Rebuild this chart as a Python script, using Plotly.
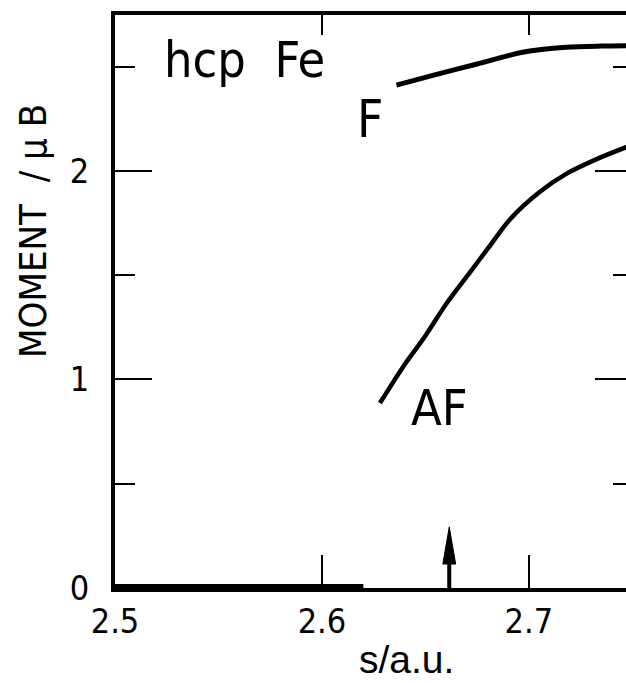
import plotly.graph_objects as go

# ---- data ----
f_s = [2.636, 2.654, 2.675, 2.697, 2.718, 2.735, 2.750]
f_m = [2.412, 2.460, 2.513, 2.569, 2.593, 2.599, 2.601]

af_s = [2.628, 2.639, 2.650, 2.660, 2.6715, 2.680, 2.691, 2.705, 2.718, 2.733, 2.747, 2.750]
af_m = [0.887, 1.058, 1.210, 1.362, 1.514, 1.626, 1.770, 1.898, 1.986, 2.058, 2.114, 2.125]

zero_s = [2.500, 2.620]
zero_m = [0.0, 0.0]

arrow_s = 2.6615
arrow_tip = 0.293

x_range = [2.5, 2.7469]
y_range = [0.0, 2.748]
x_ticks = [2.5, 2.6, 2.7]
x_ticklabels = ["2.5", "2.6", "2.7"]
y_ticks = [0, 1, 2]
y_ticklabels = ["0", "1", "2"]

FONT = "DejaVu Sans Condensed, Liberation Sans Narrow, DejaVu Sans, Arial"
BLACK = "black"

# arrow head geometry (style): head length in data-y, half width in data-x
head_len = 0.178
head_half = 0.0031

fig = go.Figure()

fig.add_trace(go.Scatter(x=zero_s, y=zero_m, mode="lines",
                         line=dict(color=BLACK, width=8), hoverinfo="skip"))
fig.add_trace(go.Scatter(x=f_s, y=f_m, mode="lines",
                         line=dict(color=BLACK, width=5, shape="spline", smoothing=0.8),
                         hoverinfo="skip"))
fig.add_trace(go.Scatter(x=af_s, y=af_m, mode="lines",
                         line=dict(color=BLACK, width=4.5, shape="spline", smoothing=0.8),
                         hoverinfo="skip"))
# arrow shaft
fig.add_trace(go.Scatter(x=[arrow_s, arrow_s], y=[0, arrow_tip - head_len], mode="lines",
                         line=dict(color=BLACK, width=4), hoverinfo="skip"))
# arrow head (filled triangle)
fig.add_trace(go.Scatter(x=[arrow_s - head_half, arrow_s, arrow_s + head_half, arrow_s - head_half],
                         y=[arrow_tip - head_len, arrow_tip, arrow_tip - head_len, arrow_tip - head_len],
                         mode="lines", fill="toself", fillcolor=BLACK,
                         line=dict(color=BLACK, width=1), hoverinfo="skip"))
# carrier for top / right axes
fig.add_trace(go.Scatter(x=[], y=[], xaxis="x2", yaxis="y2", hoverinfo="skip"))

tickfont = dict(family=FONT, size=34, color=BLACK)

fig.update_layout(
    width=626, height=683,
    margin=dict(l=115, r=0, t=15, b=95),
    paper_bgcolor="white", plot_bgcolor="white",
    showlegend=False,
    xaxis=dict(range=x_range, tickvals=x_ticks, ticktext=x_ticklabels,
               ticks="inside", ticklen=33, tickwidth=2, tickcolor=BLACK,
               showline=True, linewidth=4, linecolor=BLACK,
               showgrid=False, zeroline=False, tickfont=tickfont,
               ticklabelstandoff=0),
    yaxis=dict(range=y_range, tickvals=y_ticks, ticktext=y_ticklabels,
               ticks="inside", ticklen=37, tickwidth=2, tickcolor=BLACK,
               minor=dict(dtick=0.5, tick0=0, ticks="inside", ticklen=20, tickwidth=2, tickcolor=BLACK),
               showline=True, linewidth=4, linecolor=BLACK,
               showgrid=False, zeroline=False, tickfont=tickfont,
               ticklabelstandoff=15),
    xaxis2=dict(range=x_range, overlaying="x", side="top", anchor="y2",
                tickvals=[2.6, 2.7], ticks="inside", ticklen=20, tickwidth=2, tickcolor=BLACK,
                showticklabels=False, showline=True, linewidth=4, linecolor=BLACK,
                showgrid=False, zeroline=False),
    yaxis2=dict(range=y_range, overlaying="y", side="right", anchor="x2",
                tickvals=y_ticks, ticks="inside", ticklen=31, tickwidth=2, tickcolor=BLACK,
                minor=dict(dtick=0.5, tick0=0, ticks="inside", ticklen=13, tickwidth=2, tickcolor=BLACK),
                showticklabels=False, showline=False,
                showgrid=False, zeroline=False),
)

annots = [
    dict(text="hcp\u00a0\u00a0Fe", x=2.5227, y=2.53, xref="x", yref="y",
         xanchor="left", yanchor="middle", font=dict(family=FONT, size=50, color=BLACK)),
    dict(text="F", x=2.6232, y=2.245, xref="x", yref="y",
         xanchor="center", yanchor="middle", font=dict(family=FONT, size=51, color=BLACK)),
    dict(text="AF", x=2.657, y=0.863, xref="x", yref="y",
         xanchor="center", yanchor="middle", font=dict(family=FONT, size=50, color=BLACK)),
    dict(text="s/a.u.", x=0.5695, y=-0.1658, xref="paper", yref="paper",
         xanchor="center", yanchor="bottom", font=dict(family="Liberation Sans, Arial", size=39, color=BLACK)),
    dict(text="MOMENT\u00a0\u00a0/\u00a0μ\u00a0B", x=-0.1605, y=0.623, xref="paper", yref="paper",
         xanchor="center", yanchor="middle", textangle=-90,
         font=dict(family=FONT, size=38, color=BLACK)),
]
for a in annots:
    a["showarrow"] = False
    fig.add_annotation(**a)

fig.write_html("out.html", config={"displayModeBar": False},
               post_script="document.body.style.margin='0';document.body.style.overflow='hidden';")
